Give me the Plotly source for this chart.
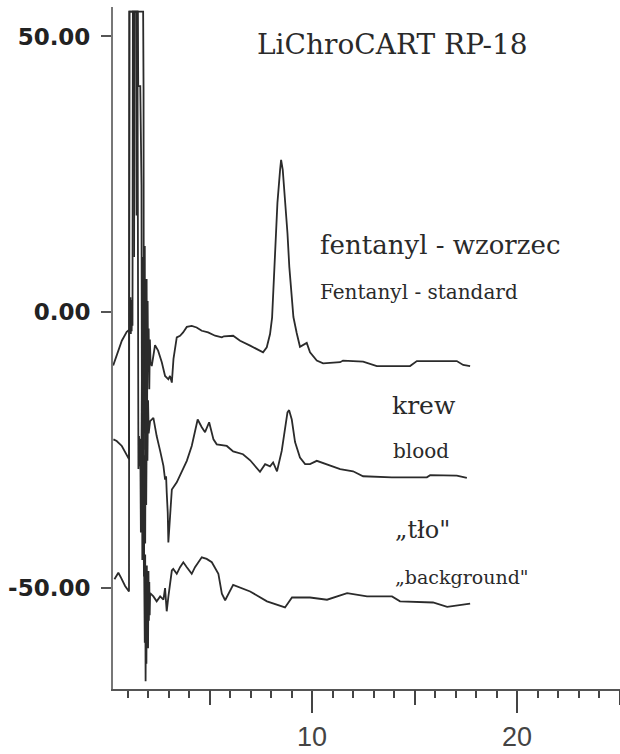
import plotly.graph_objects as go

# ---- data (retention time in min, detector signal) ----
std_time = [0.30, 0.47, 0.72, 0.96, 1.12, 1.14, 1.16, 1.18, 1.20, 1.22, 1.24, 1.26, 1.42, 1.44, 1.46,
            1.50, 1.52, 1.62, 1.64, 1.68, 1.70, 1.72, 1.74, 1.76, 1.78, 1.80, 1.82, 1.84, 1.86, 1.88,
            1.90, 1.93, 1.95, 1.98, 2.00, 2.03, 2.06, 2.09, 2.12,
            2.18, 2.34, 2.49, 2.67, 2.83, 2.99, 3.07, 3.16, 3.24, 3.32, 3.40, 3.56, 3.71, 3.89,
            4.13, 4.37, 4.62, 4.93, 5.27, 5.60, 5.70, 6.15, 6.49, 6.98, 7.61, 7.79, 7.95, 8.05,
            8.15, 8.31, 8.44, 8.49, 8.57, 8.68, 8.80, 8.89, 9.09, 9.25, 9.41, 9.74, 9.90, 10.23,
            10.54, 11.37, 11.51, 12.49, 12.98, 13.16, 14.78, 15.11, 17.06, 17.37, 17.71]
std_signal = [-9.7, -8.0, -5.2, -3.6, -3.1, 2.7, -4.0, 2.2, -3.5, 1.5, -2.5, 54.5, 54.5, 17.5, 54.5,
              54.5, 41.0, 41.0, 32.0, 23.0, -20.0, 5.0, -28.0, 10.0, -22.0, 3.0, -15.0, 12.0, -25.0, 0.0,
              -12.0, 6.0, -20.0, 2.0, -10.0, -3.0, -14.0, -5.0, -9.0,
              -9.8, -6.0, -7.0, -9.1, -11.6, -12.2, -11.6, -12.8, -8.5, -6.1, -4.6, -4.3, -3.7, -2.7,
              -2.5, -2.8, -3.4, -3.7, -4.3, -4.6, -4.4, -4.3, -5.2, -6.1, -7.3, -6.4, -4.0, -1.0,
              8.2, 19.8, 25.8, 27.6, 25.8, 20.7, 14.3, 8.2, -0.9, -3.8, -6.3, -5.6, -7.3, -8.8,
              -9.3, -9.1, -8.8, -9.0, -9.6, -9.8, -9.8, -8.9, -8.9, -9.6, -9.8]

blood_time = [0.31, 0.47, 0.72, 0.96, 1.07, 1.09, 1.30, 1.32, 1.34, 1.48, 1.50, 1.53, 1.56, 1.59,
              1.62, 1.65, 1.68, 1.70, 1.72, 1.74, 1.76, 1.78, 1.80, 1.82, 1.84, 1.86, 1.88, 1.91,
              1.94, 1.97, 2.00, 2.03, 2.10, 2.26, 2.42, 2.59,
              2.75, 2.83, 2.88, 2.91, 2.96, 2.99, 3.07, 3.16, 3.40, 3.64, 3.89, 4.13, 4.29, 4.42,
              4.62, 4.78, 4.98, 5.19, 5.35, 5.84, 6.15, 6.63, 6.98, 7.30, 7.46, 7.71, 7.95, 8.10,
              8.29, 8.52, 8.68, 8.80, 8.88, 9.01, 9.17, 9.41, 9.66, 9.90, 10.23, 10.72, 11.37,
              12.00, 12.49, 13.89, 15.60, 15.76, 17.06, 17.55]
blood_signal = [-23.1, -23.4, -24.3, -25.8, -26.7, 54.5, 54.5, 10.0, 54.5, 54.5, -22.0, -28.5, -22.5, -28.0,
                -23.0, -40.0, -25.0, -12.0, -45.0, -22.0, -20.0, -38.0, -48.0, -26.0, -30.0, -42.0, -17.5, -35.0,
                -18.5, -27.0, -16.0, -22.0, -19.8, -19.2, -22.5, -25.2,
                -27.9, -30.4, -29.8, -32.7, -36.4, -41.8, -37.6, -32.2, -30.9, -29.1, -27.0, -24.3, -21.3, -19.5,
                -20.9, -21.8, -20.0, -23.1, -24.0, -24.3, -25.3, -25.8, -26.9, -28.2, -29.0, -27.6, -28.0, -27.3,
                -28.9, -25.2, -21.3, -18.2, -17.8, -19.5, -23.6, -26.4, -27.6, -27.6, -27.0, -27.6, -28.5,
                -28.9, -29.8, -30.0, -30.0, -29.6, -29.7, -30.1]

bg_time = [0.36, 0.55, 0.68, 0.88, 1.07, 1.09, 1.76, 1.78, 1.80, 1.82, 1.84, 1.86, 1.88, 1.90,
           1.92, 1.94, 1.96, 1.98, 2.00, 2.02, 2.04, 2.06, 2.08, 2.10, 2.26, 2.42, 2.59, 2.75,
           2.83, 2.91, 2.99, 3.16, 3.23,
           3.40, 3.56, 3.72, 3.89, 4.13, 4.29, 4.62, 4.86, 5.11, 5.43, 5.60, 5.76, 6.15, 6.98,
           7.80, 8.68, 9.02, 9.90, 10.73, 11.71, 12.68, 13.90, 14.29, 15.90, 16.59, 17.71]
bg_signal = [-48.5, -47.3, -48.2, -49.7, -50.7, 54.5, 54.5, 40.5, -42.0, -55.0, -60.0, -44.0, -67.0, -50.0,
             -63.8, -46.0, -58.0, -52.0, -61.0, -47.0, -56.0, -49.0, -55.0, -51.0, -51.6, -52.5, -51.6, -52.2,
             -50.1, -54.3, -51.7, -46.9, -46.6,
             -47.5, -46.3, -45.4, -46.3, -47.5, -46.3, -44.5, -44.8, -45.4, -47.5, -51.1, -52.3, -49.5, -50.7,
             -52.5, -53.6, -51.8, -51.8, -52.2, -51.0, -51.6, -51.6, -52.5, -52.7, -53.5, -52.9]

y_tick_values = [50, 0, -50]
y_tick_labels = ["50.00", "0.00", "-50.00"]
x_major_ticks = [10, 20]
x_mid_ticks = [5, 15, 25]
x_minor_ticks = list(range(1, 26))

LINE = dict(color="#2b2b2b", width=1.8)

fig = go.Figure()
for t, s in [(std_time, std_signal), (blood_time, blood_signal), (bg_time, bg_signal)]:
    fig.add_trace(go.Scatter(x=t, y=s, mode="lines", line=LINE, hoverinfo="skip", showlegend=False))
# helper trace so the mid-tick overlay axis is drawn
fig.add_trace(go.Scatter(x=[None], y=[None], xaxis="x2", showlegend=False, hoverinfo="skip"))

serif = "DejaVu Serif"
ann = [
    ("LiChroCART RP-18", 7.2, 48.6, 28),
    ("fentanyl - wzorzec", 10.3, 12.2, 26),
    ("Fentanyl - standard", 10.3, 3.6, 20),
    ("krew", 13.8, -16.9, 25),
    ("blood", 13.85, -25.2, 20),
    ("\u201etło\"", 13.95, -39.6, 24),
    ("\u201ebackground\"", 13.95, -48.0, 19),
]
for text, x, y, size in ann:
    fig.add_annotation(x=x, y=y, text=text, showarrow=False, xanchor="left", yanchor="middle",
                       font=dict(family=serif, size=size, color="#2a2a2a"))

X_RANGE = [0.29, 25.02]
fig.update_layout(
    width=620, height=754,
    margin=dict(l=113, r=0, t=7, b=65),
    paper_bgcolor="white", plot_bgcolor="white",
    xaxis=dict(range=X_RANGE, showgrid=False, zeroline=False, showline=True, automargin=False,
               linecolor="#555", linewidth=2,
               tickmode="array", tickvals=x_major_ticks, ticktext=[str(v) for v in x_major_ticks],
               ticks="outside", ticklen=22, tickwidth=2, tickcolor="#444",
               ticklabelstandoff=1,
               tickfont=dict(family="Liberation Sans", size=27, color="#444"),
               minor=dict(tickmode="array", tickvals=x_minor_ticks, ticks="outside",
                          ticklen=7, tickwidth=2, tickcolor="#444")),
    xaxis2=dict(range=X_RANGE, overlaying="x", anchor="y", side="bottom", showgrid=False,
                zeroline=False, showline=False, automargin=False, tickmode="array", tickvals=x_mid_ticks,
                ticks="outside", ticklen=15, tickwidth=2, tickcolor="#444", showticklabels=False),
    yaxis=dict(range=[-68.4, 55.35], showgrid=False, zeroline=False, showline=True, automargin=False,
               linecolor="#777", linewidth=2,
               tickmode="array", tickvals=y_tick_values, ticktext=y_tick_labels,
               ticks="outside", ticklen=10, tickwidth=2, tickcolor="#555",
               ticklabelstandoff=6,
               tickfont=dict(family="DejaVu Sans", size=23, color="#222", weight="bold")),
)

fig.write_html("out.html")
